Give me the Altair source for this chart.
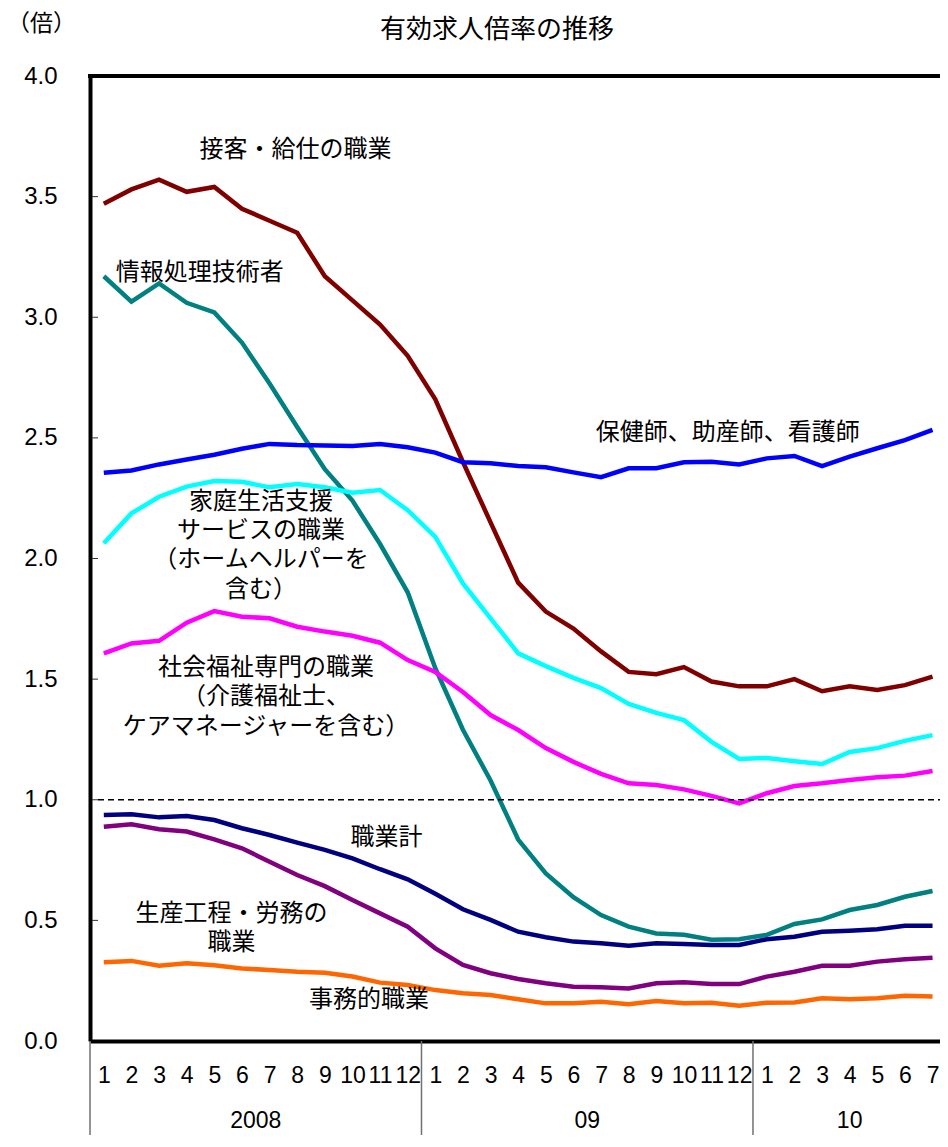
import altair as alt
import pandas as pd

# ---- x categories -------------------------------------------------------
years = ["2008"] * 12 + ["09"] * 12 + ["10"] * 7
months = list(range(1, 13)) + list(range(1, 13)) + list(range(1, 8))

chart_title = ["有効求人倍率の推移"]

# ---- series -------------------------------------------------------------
series_names = [
    "接客・給仕の職業",
    "情報処理技術者",
    "保健師、助産師、看護師",
    "家庭生活支援サービスの職業",
    "社会福祉専門の職業",
    "職業計",
    "生産工程・労務の職業",
    "事務的職業",
]
series_colors = ["#800000", "#008080", "#0000FF", "#00FFFF", "#FF00FF", "#000080", "#800080", "#FF6600"]

setsu = [3.47, 3.53, 3.57, 3.52, 3.54, 3.45, 3.40, 3.35, 3.17, 3.07, 2.97, 2.84, 2.66, 2.40, 2.15, 1.90,
         1.78, 1.71, 1.615, 1.53, 1.52, 1.55, 1.49, 1.47, 1.47, 1.50, 1.45, 1.47, 1.455, 1.475, 1.51]
joho = [3.17, 3.065, 3.14, 3.06, 3.02, 2.895, 2.725, 2.545, 2.37, 2.24, 2.06, 1.86, 1.545, 1.29, 1.08, 0.835,
        0.695, 0.596, 0.522, 0.474, 0.446, 0.44, 0.42, 0.422, 0.44, 0.485, 0.504, 0.543, 0.564, 0.598, 0.622]
hoken = [2.355, 2.365, 2.39, 2.41, 2.43, 2.455, 2.475, 2.47, 2.468, 2.466, 2.475, 2.461, 2.439, 2.399, 2.395,
         2.383, 2.378, 2.357, 2.337, 2.374, 2.374, 2.399, 2.401, 2.390, 2.415, 2.425, 2.383, 2.422, 2.457, 2.491, 2.533]
katei = [2.063, 2.187, 2.256, 2.298, 2.321, 2.318, 2.295, 2.309, 2.295, 2.273, 2.284, 2.20, 2.09, 1.897, 1.752,
         1.607, 1.554, 1.505, 1.463, 1.397, 1.36, 1.33, 1.24, 1.169, 1.173, 1.16, 1.148, 1.198, 1.214, 1.244, 1.268]
shakai = [1.607, 1.648, 1.659, 1.734, 1.782, 1.759, 1.752, 1.717, 1.697, 1.68, 1.651, 1.579, 1.53, 1.447, 1.351,
          1.289, 1.214, 1.157, 1.107, 1.068, 1.061, 1.043, 1.016, 0.985, 1.027, 1.057, 1.068, 1.082, 1.093, 1.10, 1.119]
kei = [0.937, 0.94, 0.927, 0.933, 0.916, 0.882, 0.854, 0.822, 0.792, 0.757, 0.712, 0.670, 0.610, 0.546, 0.502,
       0.453, 0.43, 0.412, 0.405, 0.395, 0.405, 0.402, 0.398, 0.398, 0.422, 0.432, 0.453, 0.457, 0.463, 0.478, 0.478]
seisan = [0.888, 0.898, 0.878, 0.868, 0.836, 0.799, 0.743, 0.688, 0.642, 0.584, 0.529, 0.474, 0.384, 0.315, 0.281,
          0.257, 0.239, 0.225, 0.223, 0.218, 0.239, 0.243, 0.236, 0.236, 0.267, 0.287, 0.312, 0.312, 0.329, 0.339, 0.345]
jimu = [0.326, 0.332, 0.312, 0.322, 0.314, 0.301, 0.294, 0.287, 0.283, 0.267, 0.242, 0.232, 0.211, 0.198, 0.191,
        0.173, 0.156, 0.156, 0.163, 0.152, 0.166, 0.156, 0.159, 0.146, 0.159, 0.16, 0.177, 0.173, 0.177, 0.188, 0.184]
series_values = [setsu, joho, hoken, katei, shakai, kei, seisan, jimu]

# ---- annotation labels (data coordinates of the first line; "\n" = line break)
label_text = ["接客・給仕の職業", "情報処理技術者", "保健師、助産師、看護師",
              "家庭生活支援\nサービスの職業\n（ホームヘルパーを\n含む）",
              "社会福祉専門の職業\n（介護福祉士、\nケアマネージャーを含む）",
              "職業計", "生産工程・労務の\n職業", "事務的職業"]
label_x = [6.94, 3.47, 22.59, 5.69, 5.87, 10.23, 4.62, 9.6]
label_y = [3.693, 3.182, 2.519, 2.236, 1.546, 0.840, 0.526, 0.170]

y_ticks = [0.0, 0.5, 1.0, 1.5, 2.0, 2.5, 3.0, 3.5, 4.0]
ref_level = [1.0]
top_level = [4.0]

# ---- tables -------------------------------------------------------------
rows = []
for name, vals in zip(series_names, series_values):
    for i, v in enumerate(vals):
        rows.append({"series": name, "idx": i, "value": v})
df = pd.DataFrame(rows)
month_df = pd.DataFrame({"idx": list(range(len(months))), "month": months, "year": years})
label_df = pd.DataFrame({"text": label_text, "x": label_x, "y": label_y})
tick_df = pd.DataFrame({"v": y_ticks[1:-1]})

W, H = 850, 965
JP = "Noto Sans CJK JP"
xscale = alt.Scale(domain=[-0.5, 30.27], nice=False, zero=False)
yscale = alt.Scale(domain=[0, 4], nice=False, zero=False)

xaxis = alt.Axis(
    values=list(range(31)), labelExpr="(datum.value % 12) + 1", title=None,
    ticks=False, tickSize=0, grid=False, domainColor="black", domainWidth=4,
    labelFont="Liberation Sans", labelFontSize=23, labelColor="black",
    labelPadding=34, labelBaseline="middle", labelOverlap=False, labelFlush=False)
yaxis = alt.Axis(
    values=y_ticks, format=".1f", title="（倍）", titleAngle=0, titleX=-49, titleY=-53,
    titleAlign="center", titleBaseline="middle", titleFont=JP, titleFontSize=23,
    titleFontWeight="normal", titleColor="black",
    ticks=False, tickSize=0, grid=False, domainColor="black", domainWidth=4,
    labelFont="Liberation Sans", labelFontSize=24, labelColor="black", labelPadding=33)

lines = alt.Chart(df).mark_line(strokeWidth=4.5).encode(
    x=alt.X("idx:Q", scale=xscale, axis=xaxis),
    y=alt.Y("value:Q", scale=yscale, axis=yaxis),
    color=alt.Color("series:N", scale=alt.Scale(domain=series_names, range=series_colors), legend=None),
    order="idx:Q",
)

top_rule = alt.Chart(pd.DataFrame({"v": top_level})).mark_rule(color="black", strokeWidth=4).encode(
    y=alt.Y("v:Q", scale=yscale, axis=yaxis), x=alt.value(-2), x2=alt.value(W))

ref_rule = alt.Chart(pd.DataFrame({"v": ref_level})).mark_rule(
    color="black", strokeWidth=1.5, strokeDash=[6, 4]).encode(
    y=alt.Y("v:Q", scale=yscale, axis=yaxis), x=alt.value(8), x2=alt.value(W))

inner_ticks = alt.Chart(tick_df).mark_rule(color="#333333", strokeWidth=1).encode(
    y=alt.Y("v:Q", scale=yscale, axis=yaxis), x=alt.value(2), x2=alt.value(8))

seps = alt.Chart(month_df).transform_filter("datum.month == 1").transform_calculate(
    sep="datum.idx - 0.5").mark_rule(color="#707070", strokeWidth=1.5).encode(
    x=alt.X("sep:Q", scale=xscale, axis=xaxis), y=alt.value(H), y2=alt.value(H + 94))

year_text = alt.Chart(month_df).transform_aggregate(
    center="mean(idx)", groupby=["year"]).mark_text(
    font="Liberation Sans", fontSize=23, color="black", baseline="middle").encode(
    x=alt.X("center:Q", scale=xscale, axis=xaxis), y=alt.value(H + 80), text="year:N")

labels = alt.Chart(label_df).mark_text(
    font=JP, fontSize=24, color="black", align="center", baseline="middle",
    lineBreak="\n", lineHeight=29.4).encode(
    x=alt.X("x:Q", scale=xscale, axis=xaxis), y=alt.Y("y:Q", scale=yscale, axis=yaxis), text="text:N")

title_text = alt.Chart(pd.DataFrame({"t": chart_title})).mark_text(
    font=JP, fontSize=26, color="black", align="center", baseline="middle").encode(
    x=alt.value(407), y=alt.value(-46), text="t:N")

chart = alt.layer(lines, top_rule, ref_rule, inner_ticks, seps, year_text, labels, title_text).properties(
    width=W, height=H,
    autosize=alt.AutoSizeParams(type="none"),
    padding={"left": 82, "top": 68, "right": 0, "bottom": 94},
).configure_view(stroke=None)

chart.save("out.html", embed_options={"renderer": "svg", "actions": False})
